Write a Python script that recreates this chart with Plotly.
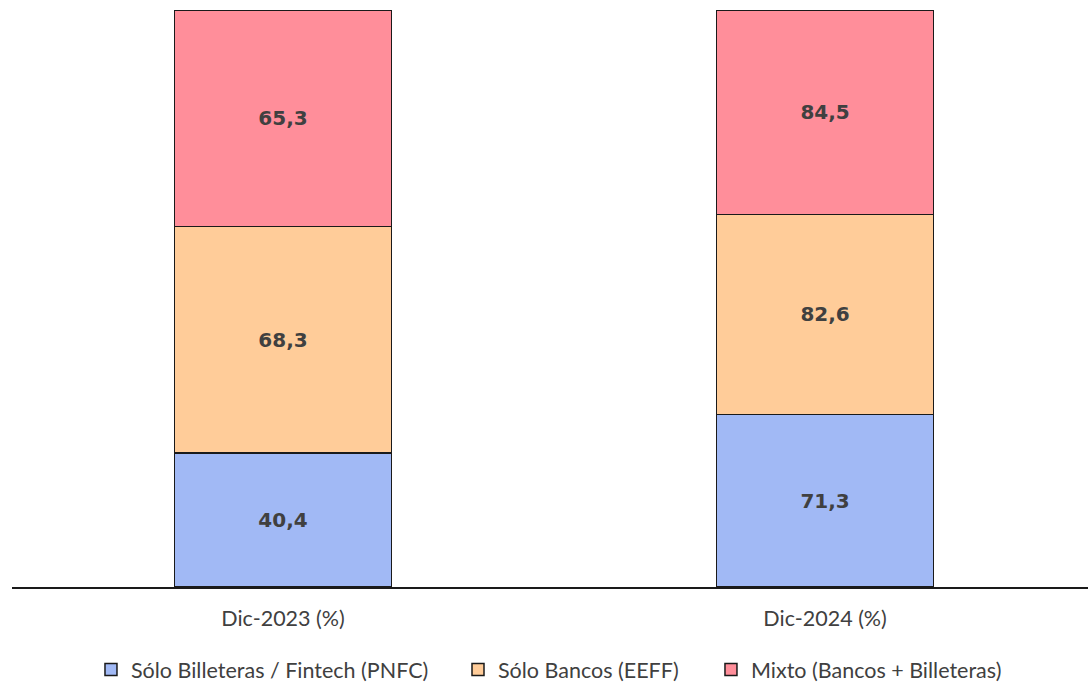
import plotly.graph_objects as go

categories = ["Dic-2023 (%)", "Dic-2024 (%)"]
series_names = ["Sólo Billeteras / Fintech (PNFC)", "Sólo Bancos (EEFF)", "Mixto (Bancos + Billeteras)"]
solo_billeteras = [40.4, 71.3]
solo_bancos = [68.3, 82.6]
mixto = [65.3, 84.5]
colors = ["#A1B9F5", "#FFCC99", "#FF8E9A"]
legend_ids = ["legend", "legend2", "legend3"]
legend_x = [0.0734, 0.4145, 0.6496]

fig = go.Figure()
for name, vals, col, lg in zip(series_names, [solo_billeteras, solo_bancos, mixto], colors, legend_ids):
    fig.add_trace(go.Bar(
        x=categories, y=vals, name=name, legend=lg,
        text=[f"{v:.1f}".replace(".", ",") for v in vals],
        textposition="inside", insidetextanchor="middle",
        textfont=dict(family="DejaVu Sans", size=20, color="#404040", weight="bold"),
        marker=dict(color=col, line=dict(color="#1a1a1a", width=1.5)),
        width=0.4,
    ))

legend_common = dict(orientation="h", xanchor="left", yref="container", y=0.021, yanchor="middle",
                     itemwidth=30, font=dict(family="Lato", size=21.5, color="#404040"),
                     bgcolor="rgba(0,0,0,0)")

fig.update_layout(
    barmode="stack", barnorm="percent",
    width=1088, height=684,
    margin=dict(l=12, r=0, t=10, b=97, autoexpand=False),
    paper_bgcolor="white", plot_bgcolor="white",
    font=dict(family="Lato", size=21.5, color="#404040"),
    showlegend=True,
    legend=dict(x=legend_x[0], **legend_common),
    legend2=dict(x=legend_x[1], **legend_common),
    legend3=dict(x=legend_x[2], **legend_common),
    xaxis=dict(range=[-0.5, 1.485], showline=True, linecolor="#1a1a1a", linewidth=1.5,
               ticks="outside", ticklen=11, tickcolor="rgba(0,0,0,0)", showgrid=False,
               tickfont=dict(family="Lato", size=21.5, color="#404040")),
    yaxis=dict(range=[0, 100], visible=False, showgrid=False),
)

fig.write_html("out.html")
